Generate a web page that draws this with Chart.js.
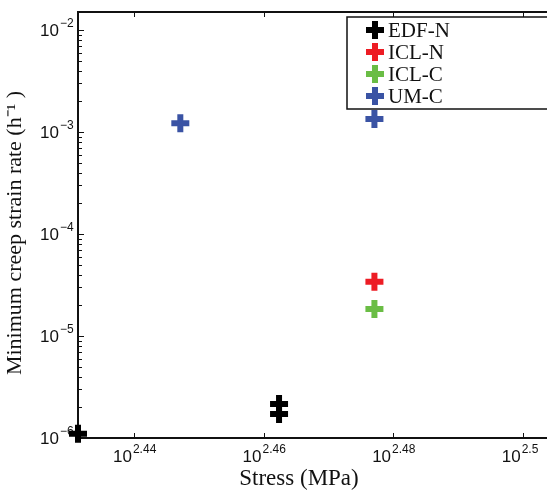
<!DOCTYPE html>
<html>
<head>
<meta charset="utf-8">
<script src="https://cdn.jsdelivr.net/npm/chart.js@4/dist/chart.umd.min.js"></script>
<style>
  html, body { margin: 0; padding: 0; background: #fff; overflow: hidden; }
  #wrap { width: 547px; height: 491px; overflow: hidden; }
</style>
</head>
<body>
<div id="wrap"><canvas id="creepChart" width="560" height="491"></canvas></div>
<script>
// data
const seriesNames = ['EDF-N', 'ICL-N', 'ICL-C', 'UM-C'];
const edfStress = [270, 290, 290];
const edfRate = [1.1e-6, 2.15e-6, 1.72e-6];
const iclNStress = [300];
const iclNRate = [3.4e-5];
const iclCStress = [300];
const iclCRate = [1.84e-5];
const umcStress = [280, 300];
const umcRate = [1.22e-3, 1.34e-3];

// tick labels (powers of ten)
const xTickExps = ['2.44', '2.46', '2.48', '2.5'];
const yTickExps = ['-2', '-3', '-4', '-5', '-6'];

const colors = ['#000000', '#ed1c24', '#6abd45', '#3a53a4'];

function pts(xs, ys) {
  return xs.map((x, i) => ({ x: x, y: ys[i] }));
}

const seriesData = [
  pts(edfStress, edfRate),
  pts(iclNStress, iclNRate),
  pts(iclCStress, iclCRate),
  pts(umcStress, umcRate)
];

const datasets = seriesNames.map((name, i) => ({
  label: name,
  data: seriesData[i],
  pointStyle: 'cross',
  pointRadius: 9,
  pointHoverRadius: 9,
  borderWidth: 6,
  borderColor: colors[i],
  backgroundColor: colors[i],
  clip: false
}));

function cross(ctx, x, y, color) {
  ctx.save();
  ctx.strokeStyle = color;
  ctx.lineWidth = 6;
  ctx.beginPath();
  ctx.moveTo(x - 9, y); ctx.lineTo(x + 9, y);
  ctx.moveTo(x, y - 9); ctx.lineTo(x, y + 9);
  ctx.stroke();
  ctx.restore();
}

// axes box, ticks and tick labels like the matlab figure
const axesPlugin = {
  id: 'axesPlugin',
  beforeDatasetsDraw(chart) {
    const ctx = chart.ctx;
    const a = chart.chartArea;
    const xs = chart.scales.x, ys = chart.scales.y;
    ctx.save();
    ctx.strokeStyle = '#111';
    ctx.lineWidth = 2;
    ctx.strokeRect(a.left, a.top, a.right - a.left, a.bottom - a.top);

    ctx.lineWidth = 1;
    // y ticks, major + minor
    for (let d = -6; d <= -2; d++) {
      for (let k = 1; k <= 9; k++) {
        const v = k * Math.pow(10, d);
        if (v < ys.min || v > ys.max) continue;
        const y = Math.round(ys.getPixelForValue(v)) + 0.5;
        const len = k === 1 ? 6 : 4;
        ctx.beginPath();
        ctx.moveTo(a.left, y); ctx.lineTo(a.left + len, y);
        ctx.moveTo(a.right, y); ctx.lineTo(a.right - len, y);
        ctx.stroke();
      }
    }
    // x ticks
    xTickExps.forEach(e => {
      const x = Math.round(xs.getPixelForValue(Math.pow(10, parseFloat(e)))) + 0.5;
      ctx.beginPath();
      ctx.moveTo(x, a.bottom); ctx.lineTo(x, a.bottom - 5);
      ctx.moveTo(x, a.top); ctx.lineTo(x, a.top + 5);
      ctx.stroke();
    });

    ctx.fillStyle = '#111';
    // y tick labels
    yTickExps.forEach(e => {
      const y = ys.getPixelForValue(Math.pow(10, parseFloat(e)));
      ctx.font = '17px "Liberation Sans", Arial, sans-serif';
      ctx.textAlign = 'right';
      ctx.textBaseline = 'middle';
      ctx.fillText('10', 59, y + 1);
      ctx.font = '12px "Liberation Sans", Arial, sans-serif';
      ctx.textAlign = 'left';
      ctx.textBaseline = 'alphabetic';
      ctx.fillText(e.replace('-', '\u2212'), 60, y - 3);
    });
    // x tick labels
    xTickExps.forEach(e => {
      const x = xs.getPixelForValue(Math.pow(10, parseFloat(e)));
      ctx.font = '17px "Liberation Sans", Arial, sans-serif';
      ctx.textAlign = 'right';
      ctx.textBaseline = 'alphabetic';
      ctx.fillText('10', x - 2, 462);
      ctx.font = '12px "Liberation Sans", Arial, sans-serif';
      ctx.textAlign = 'left';
      ctx.fillText(e, x - 1, 453);
    });

    // axis titles
    ctx.font = '23px "Liberation Serif", "Times New Roman", serif';
    ctx.textAlign = 'center';
    ctx.textBaseline = 'alphabetic';
    ctx.fillText('Stress (MPa)', 299, 485);
    ctx.font = '22px "Liberation Serif", "Times New Roman", serif';
    ctx.translate(21, 233);
    ctx.rotate(-Math.PI / 2);
    ctx.fillText('Minimum creep strain rate (h\u207B\u00B9 )', 0, 0);
    ctx.restore();
  },
  afterDatasetsDraw(chart) {
    // boxed legend in the upper right corner
    const ctx = chart.ctx;
    ctx.save();
    ctx.fillStyle = '#fff';
    ctx.fillRect(347, 17, 250, 92);
    ctx.strokeStyle = '#111';
    ctx.lineWidth = 1.5;
    ctx.strokeRect(347, 17, 250, 92);
    ctx.font = '21px "Liberation Serif", "Times New Roman", serif';
    ctx.textAlign = 'left';
    ctx.textBaseline = 'middle';
    chart.data.datasets.forEach((ds, i) => {
      const y = 30 + i * 22;
      cross(ctx, 375, y, ds.borderColor);
      ctx.fillStyle = '#111';
      ctx.fillText(ds.label, 388, y + 1);
    });
    ctx.restore();
  }
};

const config = {
  type: 'scatter',
  data: { datasets: datasets },
  options: {
    responsive: false,
    animation: false,
    layout: { autoPadding: false, padding: { left: 78, top: 12, right: 4, bottom: 53 } },
    plugins: {
      legend: { display: false },
      tooltip: { enabled: false }
    },
    scales: {
      x: { type: 'logarithmic', min: 270, max: 320, display: false },
      y: { type: 'logarithmic', min: 1e-6, max: 0.015, display: false }
    }
  },
  plugins: [axesPlugin]
};

const creepChart = new Chart(document.getElementById('creepChart').getContext('2d'), config);
</script>
</body>
</html>
